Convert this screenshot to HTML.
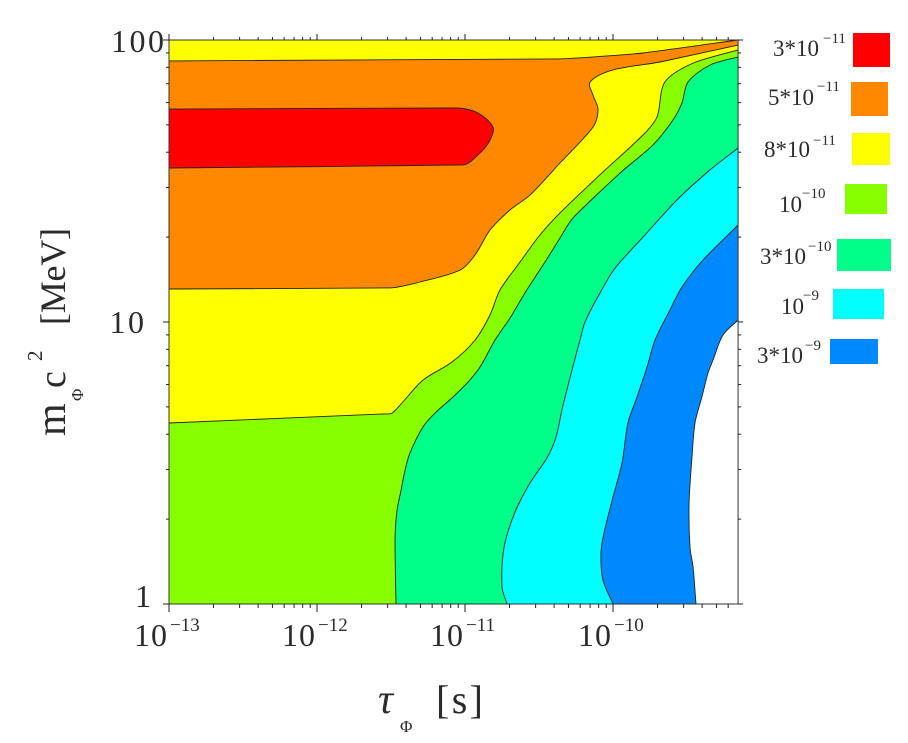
<!DOCTYPE html>
<html lang="en">
<head>
<meta charset="utf-8">
<title>Contour plot of m-phi versus tau-phi</title>
<style>
  html, body { margin: 0; padding: 0; background: #fff; }
  body { width: 908px; height: 743px; overflow: hidden; }
  svg { display: block; filter: blur(0.35px); }
  text { font-family: "Liberation Serif", "DejaVu Serif", serif; fill: #2b2b2b; }
</style>
</head>
<body>
<svg id="chart" xmlns="http://www.w3.org/2000/svg" width="908" height="743" viewBox="0 0 908 743">
  <g id="regions"></g>
  <g id="axes"></g>

  <g>
    <text transform="translate(65,436) rotate(-90)" font-size="42">m</text>
    <text transform="translate(83,401) rotate(-90)" font-size="17">Φ</text>
    <text transform="translate(65,388) rotate(-90)" font-size="38">c</text>
    <text transform="translate(42,361) rotate(-90)" font-size="21">2</text>
    <text transform="translate(65,325) rotate(-90)" font-size="36" textLength="97" lengthAdjust="spacing">[MeV]</text>
  </g>

  <g>
    <text x="378" y="713" font-size="42" font-style="italic">τ</text>
    <text x="400" y="732" font-size="17">Φ</text>
    <text x="436" y="713" font-size="40" textLength="47" lengthAdjust="spacing">[s]</text>
  </g>

  <g font-size="23">
    <g>
      <rect x="853" y="33" width="37" height="34" fill="#ff0000"/>
      <text x="773" y="56">3*10</text>
      <text x="823" y="43" font-size="15">−11</text>
    </g>
    <g>
      <rect x="851" y="82" width="37" height="34" fill="#ff8800"/>
      <text x="768" y="105">5*10</text>
      <text x="817" y="91" font-size="15">−11</text>
    </g>
    <g>
      <rect x="852" y="133" width="38" height="32" fill="#ffff00"/>
      <text x="764" y="157">8*10</text>
      <text x="813" y="145" font-size="15">−11</text>
    </g>
    <g>
      <rect x="845" y="184" width="42" height="30" fill="#88ff00"/>
      <text x="779" y="212">10</text>
      <text x="802" y="198" font-size="15">−10</text>
    </g>
    <g>
      <rect x="837" y="239" width="54" height="32" fill="#00ff88"/>
      <text x="760" y="264">3*10</text>
      <text x="808" y="251" font-size="15">−10</text>
    </g>
    <g>
      <rect x="833" y="289" width="51" height="30" fill="#00ffff"/>
      <text x="781" y="314">10</text>
      <text x="803" y="300" font-size="15">−9</text>
    </g>
    <g>
      <rect x="830" y="339" width="48" height="25" fill="#0088ff"/>
      <text x="757" y="363">3*10</text>
      <text x="805" y="350" font-size="15">−9</text>
    </g>
  </g>
</svg>

<script>
// Axis tick data
var xTickExponents = [-13, -12, -11, -10];
var xTickLabels = ["−13", "−12", "−11", "−10"];
var yTickValues = [1, 10, 100];
var yTickLabels = ["1", "10", "100"];
var minorMultipliers = [2, 3, 4, 5, 6, 7, 8, 9];

// Contour boundaries: log10(tau / s) and log10(m c^2 / MeV)
var blue3e9Tau = [-9.439,-9.459,-9.480,-9.486,-9.466,-9.446,-9.399,-9.358,-9.324,-9.257,-9.155];
var blue3e9Mass = [0,0.131,0.202,0.358,0.521,0.642,0.734,0.819,0.865,0.954,1.007];

var cyan1e9Tau = [-10.000,-10.068,-10.081,-10.061,-10.000,-9.939,-9.899,-9.838,-9.770,-9.716,-9.615,-9.534,-9.392,-9.155];
var cyan1e9Mass = [0,0.085,0.181,0.252,0.379,0.500,0.642,0.734,0.840,0.936,1.043,1.124,1.220,1.344];

var spring3e10Tau = [-10.716,-10.750,-10.736,-10.662,-10.561,-10.446,-10.385,-10.345,-10.277,-10.223,-10.189,-10.088,-9.986,-9.797,-9.568,-9.345,-9.155];
var spring3e10Mass = [0,0.060,0.202,0.326,0.429,0.518,0.592,0.688,0.830,0.936,1.000,1.103,1.191,1.301,1.433,1.539,1.617];

var lime1e10Tau = [-11.466,-11.473,-11.459,-11.432,-11.405,-11.372,-11.284,-11.203,-11.081,-10.980,-10.899,-10.797,-10.696,-10.595,-10.459,-10.358,-10.270,-9.953,-9.730,-9.595,-9.534,-9.493,-9.345,-9.155];
var lime1e10Mass = [0,0.227,0.333,0.404,0.475,0.535,0.628,0.677,0.734,0.787,0.840,0.936,1.014,1.103,1.213,1.298,1.369,1.528,1.628,1.716,1.777,1.851,1.911,1.940];

var yellow8e11Tau = [-13,-11.541,-11.493,-11.426,-11.284,-11.088,-10.932,-10.831,-10.764,-10.628,-10.493,-10.358,-10.068,-9.797,-9.703,-9.649,-9.459,-9.155];
var yellow8e11Mass = [0.642,0.674,0.677,0.713,0.794,0.858,0.936,1.025,1.113,1.213,1.309,1.387,1.532,1.663,1.727,1.851,1.918,1.965];

var orangeLowerTau = [-13,-11.507,-11.304,-11.034,-10.932,-10.831,-10.696,-10.561,-10.358,-10.135,-10.101,-10.135,-10.155,-10.000,-9.682,-9.155];
var orangeLowerMass = [1.117,1.121,1.142,1.184,1.238,1.326,1.397,1.450,1.564,1.691,1.752,1.805,1.851,1.894,1.922,1.982];

var orangeUpperTau = [-13,-10.358,-9.797,-9.155];
var orangeUpperMass = [1.926,1.933,1.954,2.000];

var redTau = [-13,-11.054,-10.912,-10.811,-10.831,-10.899,-11.014,-13];
var redMass = [1.755,1.759,1.741,1.691,1.645,1.599,1.557,1.546];

// Axis functions
var xMinExp = -13, xMaxExp = -9.155;
var yMinLog = 0, yMaxLog = 2;
function sx(logTau) { return 169 + (logTau - xMinExp) * 148; }
function sy(logMass) { return 604 - (logMass - yMinLog) * 282; }

var svgNS = "http://www.w3.org/2000/svg";
var regionLayer = document.getElementById("regions");
var axisLayer = document.getElementById("axes");

function pts(taus, masses) {
  return taus.map(function (t, i) { return [sx(t), sy(masses[i])]; });
}
function fmt(p) { return p[0].toFixed(1) + " " + p[1].toFixed(1); }

// Smooth curve through the points; handle length follows each segment so
// long flat runs cannot overshoot where they meet short segments.
function unitTangent(a, b) {
  var dx = b[0] - a[0], dy = b[1] - a[1], len = Math.sqrt(dx * dx + dy * dy) || 1;
  return [dx / len, dy / len];
}
function curveThrough(p) {
  var d = "";
  for (var i = 0; i < p.length - 1; i++) {
    var p0 = p[Math.max(i - 1, 0)], p1 = p[i], p2 = p[i + 1], p3 = p[Math.min(i + 2, p.length - 1)];
    var seg = Math.sqrt(Math.pow(p2[0] - p1[0], 2) + Math.pow(p2[1] - p1[1], 2));
    var handle = Math.min(seg * 0.3, 12);
    var t1 = unitTangent(p0, p2), t2 = unitTangent(p1, p3);
    var c1 = [p1[0] + t1[0] * handle, p1[1] + t1[1] * handle];
    var c2 = [p2[0] - t2[0] * handle, p2[1] - t2[1] * handle];
    d += " C" + fmt(c1) + " " + fmt(c2) + " " + fmt(p2);
  }
  return d;
}
function openPath(p) { return "M" + fmt(p[0]) + curveThrough(p); }

var cornerTopRight = [sx(xMaxExp), sy(yMaxLog)];
var cornerTopLeft = [sx(xMinExp), sy(yMaxLog)];
var cornerBottomLeft = [sx(xMinExp), sy(yMinLog)];

function addRegion(name, color, d) {
  var region = document.createElementNS(svgNS, "path");
  
  
  region.setAttribute("d", d);
  region.setAttribute("fill", color);
  regionLayer.appendChild(region);
}
function addContour(name, p) {
  var line = document.createElementNS(svgNS, "path");
  
  
  line.setAttribute("d", openPath(p));
  line.setAttribute("fill", "none");
  line.setAttribute("stroke", "#222");
  line.setAttribute("stroke-width", "0.9");
  regionLayer.appendChild(line);
}
function closedToCorners(p, corners) {
  return openPath(p) + corners.map(function (c) { return " L" + fmt(c); }).join("") + " Z";
}

var closure = [cornerTopRight, cornerTopLeft, cornerBottomLeft];
var orangeLower = pts(orangeLowerTau, orangeLowerMass);
var orangeUpperReversed = pts(orangeUpperTau, orangeUpperMass).reverse();

// Painter's order: each level paints over the previous one
addRegion("region-3e-9", "#0088ff", closedToCorners(pts(blue3e9Tau, blue3e9Mass), closure));
addRegion("region-1e-9", "#00ffff", closedToCorners(pts(cyan1e9Tau, cyan1e9Mass), closure));
addRegion("region-3e-10", "#00ff88", closedToCorners(pts(spring3e10Tau, spring3e10Mass), closure));
addRegion("region-1e-10", "#88ff00", closedToCorners(pts(lime1e10Tau, lime1e10Mass), closure));
addRegion("region-8e-11", "#ffff00", closedToCorners(pts(yellow8e11Tau, yellow8e11Mass), [cornerTopRight, cornerTopLeft]));
addRegion("region-5e-11", "#ff8800", openPath(orangeLower) + " L" + fmt(orangeUpperReversed[0]) + curveThrough(orangeUpperReversed) + " Z");
addRegion("region-3e-11", "#ff0000", openPath(pts(redTau, redMass)) + " Z");

addContour("contour-3e-9", pts(blue3e9Tau, blue3e9Mass));
addContour("contour-1e-9", pts(cyan1e9Tau, cyan1e9Mass));
addContour("contour-3e-10", pts(spring3e10Tau, spring3e10Mass));
addContour("contour-1e-10", pts(lime1e10Tau, lime1e10Mass));
addContour("contour-8e-11", pts(yellow8e11Tau, yellow8e11Mass));
addContour("contour-5e-11-lower", orangeLower);
addContour("contour-5e-11-upper", pts(orangeUpperTau, orangeUpperMass));
addContour("contour-3e-11", pts(redTau, redMass));

// Frame
var frame = document.createElementNS(svgNS, "rect");


frame.setAttribute("x", sx(xMinExp));
frame.setAttribute("y", sy(yMaxLog));
frame.setAttribute("width", sx(xMaxExp) - sx(xMinExp));
frame.setAttribute("height", sy(yMinLog) - sy(yMaxLog));
frame.setAttribute("fill", "none");
frame.setAttribute("stroke", "#333");
frame.setAttribute("stroke-width", "1");
axisLayer.appendChild(frame);

function addTick(name, x1, y1, x2, y2) {
  var tick = document.createElementNS(svgNS, "line");
  
  
  tick.setAttribute("x1", x1);
  tick.setAttribute("y1", y1);
  tick.setAttribute("x2", x2);
  tick.setAttribute("y2", y2);
  tick.setAttribute("stroke", "#222");
  tick.setAttribute("stroke-width", "1");
  axisLayer.appendChild(tick);
}
function addLabel(name, x, y, size, anchor, str, spacing) {
  var label = document.createElementNS(svgNS, "text");
  
  
  label.setAttribute("x", x);
  label.setAttribute("y", y);
  label.setAttribute("font-size", size);
  label.setAttribute("text-anchor", anchor);
  label.setAttribute("letter-spacing", spacing);
  label.textContent = str;
  axisLayer.appendChild(label);
}

// X ticks, bottom and top
function drawXTick(logTau, bottomLen, topLen, prefix) {
  var px = sx(logTau);
  addTick(prefix + "-bottom", px, sy(yMinLog), px, sy(yMinLog) + bottomLen);
  addTick(prefix + "-top", px, sy(yMaxLog), px, sy(yMaxLog) - topLen);
}
xTickExponents.forEach(function (exp, i) {
  drawXTick(exp, 8, 6, "x-major-tick");
  minorMultipliers.forEach(function (m) {
    var lt = exp + Math.log10(m);
    if (lt <= xMaxExp) drawXTick(lt, 4, 3, "x-minor-tick");
  });
  var px = sx(exp);
  addLabel("x-tick-label-base", px - 35, 646, 32, "start", "10", 1);
  addLabel("x-tick-label-exponent", px + 1, 631, 19, "start", xTickLabels[i], 0);
});

// Y ticks, left and right
function drawYTick(logMass, leftLen, rightLen, prefix) {
  var py = sy(logMass);
  addTick(prefix + "-left", sx(xMinExp), py, sx(xMinExp) - leftLen, py);
  addTick(prefix + "-right", sx(xMaxExp), py, sx(xMaxExp) + rightLen, py);
}
function yLabelRight(value) { return value === 100 ? 166.5 : (value === 10 ? 146.5 : 153.5); }
function yLabelDrop(value) { return value === 100 ? 12 : (value === 10 ? 11 : 3); }
yTickValues.forEach(function (value, i) {
  var lm = Math.log10(value);
  drawYTick(lm, 6, 5, "y-major-tick");
  if (value < 100) {
    minorMultipliers.forEach(function (m) {
      drawYTick(lm + Math.log10(m), 3, 3, "y-minor-tick");
    });
  }
  addLabel("y-tick-label", yLabelRight(value), sy(lm) + yLabelDrop(value), 32, "end", yTickLabels[i], 2.5);
});
</script>
</body>
</html>
